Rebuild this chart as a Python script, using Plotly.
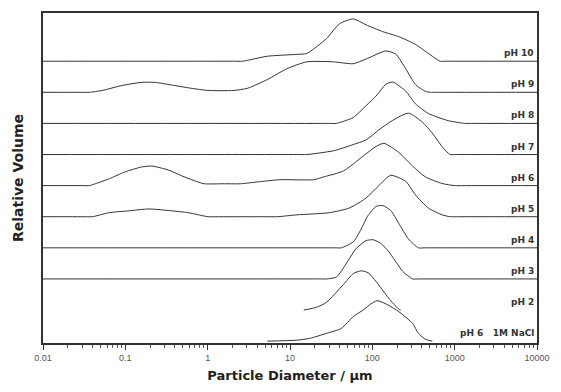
import plotly.graph_objects as go

# Particle diameter (µm) and relative volume for each sample (top to bottom)
labels = ["pH 10", "pH 9", "pH 8", "pH 7", "pH 6", "pH 5", "pH 4", "pH 3", "pH 2", "pH 6   1M NaCl"]

x_ph10 = [0.01, 2.0, 2.66, 5.3, 12.1, 16.0, 27.8, 39.8, 58.6, 84, 134, 209, 334, 535, 667, 800, 10000]
y_ph10 = [0, 0, 0, 0.16, 0.22, 0.25, 0.73, 1.2, 1.36, 1.17, 0.95, 0.79, 0.54, 0.16, 0, 0, 0]

x_ph9 = [0.01, 0.03, 0.0366, 0.0525, 0.0912, 0.158, 0.227, 0.394, 0.631, 1.01, 2.07, 3.05, 5.3, 9.2, 16.0, 33.7, 58.6, 83.9, 146, 192, 254, 334, 441, 506, 600, 10000]
y_ph9 = [0, 0, 0, 0.06, 0.22, 0.32, 0.32, 0.22, 0.13, 0.06, 0.06, 0.13, 0.41, 0.76, 0.98, 0.98, 0.92, 1.07, 1.33, 1.23, 0.76, 0.25, 0.03, 0, 0, 0]

x_ph8 = [0.01, 30, 36.6, 58.6, 83.9, 111, 146, 177, 254, 334, 479, 832, 1330, 1600, 10000]
y_ph8 = [0, 0, 0, 0.19, 0.57, 0.88, 1.26, 1.33, 1.04, 0.63, 0.32, 0.09, 0, 0, 0]

x_ph7 = [0.01, 12, 16.0, 33.7, 58.6, 83.9, 120, 177, 275, 406, 535, 705, 879, 1050, 10000]
y_ph7 = [0, 0, 0, 0.12, 0.32, 0.47, 0.79, 1.1, 1.33, 1.04, 0.69, 0.25, 0, 0, 0]

x_ph6 = [0.01, 0.03, 0.0366, 0.0432, 0.0637, 0.099, 0.158, 0.209, 0.334, 0.479, 0.686, 0.904, 1.53, 2.51, 4.37, 7.59, 19.4, 25.6, 44.5, 77.3, 111, 138, 209, 308, 441, 700, 1000, 1300, 10000]
y_ph6 = [0, 0, 0, 0.06, 0.22, 0.44, 0.6, 0.63, 0.5, 0.32, 0.16, 0.06, 0.06, 0.06, 0.13, 0.19, 0.19, 0.28, 0.47, 0.95, 1.26, 1.36, 1.07, 0.63, 0.28, 0.07, 0, 0, 0]

x_ph5 = [0.01, 0.033, 0.0398, 0.0637, 0.111, 0.192, 0.363, 0.581, 1.01, 1.3, 5.5, 6.98, 12.1, 30.2, 52.5, 83.9, 120, 167, 254, 334, 479, 705, 879, 1050, 10000]
y_ph5 = [0, 0, 0, 0.13, 0.19, 0.25, 0.19, 0.13, 0, 0, 0, 0, 0.06, 0.13, 0.28, 0.6, 1.0, 1.33, 1.14, 0.7, 0.28, 0.06, 0, 0, 0]

x_ph4 = [0.01, 36, 42.1, 58.6, 73.1, 88.7, 111, 134, 167, 209, 275, 363, 430, 10000]
y_ph4 = [0, 0, 0, 0.19, 0.6, 1.04, 1.33, 1.36, 1.2, 0.79, 0.28, 0, 0, 0]

x_ph3 = [0.01, 23, 27.8, 36.6, 44.5, 63.7, 83.9, 102, 127, 158, 233, 308, 370, 10000]
y_ph3 = [0, 0, 0, 0.06, 0.35, 0.98, 1.23, 1.26, 1.14, 0.88, 0.25, 0, 0, 0]

x_ph2 = [14.7, 21.1, 27.8, 44.5, 58.6, 73.1, 88.7, 111, 158, 209, 221]
y_ph2 = [0, 0.09, 0.25, 0.82, 1.17, 1.26, 1.2, 0.92, 0.38, 0.03, 0]

x_nacl = [5.3, 12.1, 17.4, 27.8, 42.1, 58.6, 77.3, 96.4, 114, 146, 209, 308, 363, 441, 535]
y_nacl = [0, 0.03, 0.09, 0.25, 0.41, 0.79, 1.0, 1.2, 1.3, 1.2, 0.95, 0.57, 0.25, 0.06, 0]

series_x = [x_ph10, x_ph9, x_ph8, x_ph7, x_ph6, x_ph5, x_ph4, x_ph3, x_ph2, x_nacl]
series_y = [y_ph10, y_ph9, y_ph8, y_ph7, y_ph6, y_ph5, y_ph4, y_ph3, y_ph2, y_nacl]

x_tickvals = [0.01, 0.1, 1, 10, 100, 1000, 10000]
x_ticktext = ["0.01", "0.1", "1", "10", "100", "1000", "10000"]

FONT = "Arial, Liberation Sans, sans-serif"
TFONT = "DejaVu Sans, Arial, sans-serif"
n = len(labels)

fig = go.Figure()
for i, (xs, ys, lab) in enumerate(zip(series_x, series_y, labels)):
    offset = n - 1 - i
    fig.add_trace(go.Scatter(
        x=xs, y=[v + offset for v in ys], mode="lines",
        line=dict(color="#333333", width=1, shape="spline", smoothing=0.6),
        showlegend=False, hoverinfo="skip"))
    fig.add_annotation(
        x=1, xref="paper", xanchor="right", xshift=-1,
        y=offset, yref="y", yanchor="bottom", yshift=1,
        text="<b>" + lab + "</b>", showarrow=False,
        font=dict(family=TFONT, size=9, color="#333333"))

fig.update_layout(
    width=561, height=392,
    margin=dict(l=43, r=18, t=11, b=45),
    paper_bgcolor="white", plot_bgcolor="white",
    font=dict(family=FONT, color="#222222"),
)
fig.update_xaxes(
    type="log", range=[-2, 4],
    tickvals=x_tickvals, ticktext=x_ticktext,
    tickfont=dict(size=9, color="#555555"),
    ticks="outside", ticklen=5, tickwidth=1, tickcolor="#333333",
    minor=dict(ticks="outside", ticklen=3, tickwidth=1, tickcolor="#555555", dtick="D1"),
    showline=True, linecolor="#333333", linewidth=1.5, mirror=True,
    showgrid=False, zeroline=False,
    title=dict(text="<b>Particle Diameter / µm</b>", font=dict(family=TFONT, size=13, color="#222222"), standoff=9),
)
fig.update_yaxes(
    range=[-0.06, 10.55],
    showticklabels=False, ticks="",
    showline=True, linecolor="#333333", linewidth=1.5, mirror=True,
    showgrid=False, zeroline=False,
    title=dict(text="<b>Relative Volume</b>", font=dict(family=TFONT, size=14, color="#222222"), standoff=14),
)

fig.write_html("out.html")
